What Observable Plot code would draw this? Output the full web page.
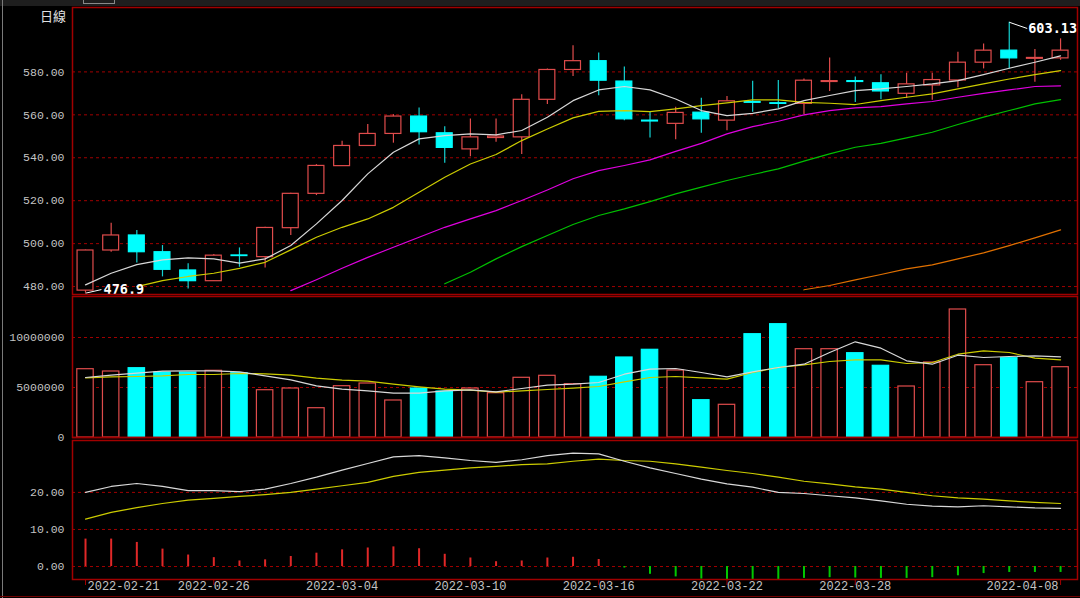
<!DOCTYPE html>
<html>
<head>
<meta charset="utf-8">
<script src="https://cdn.jsdelivr.net/npm/d3@7"></script>
<script src="https://cdn.jsdelivr.net/npm/@observablehq/plot@0.6"></script>
<style>
html,body{margin:0;padding:0;background:#000;}
#wrap{position:relative;width:1080px;height:598px;background:#000;overflow:hidden;}
#wrap svg{position:absolute;left:0;}
#topbar{position:absolute;left:0;top:0;width:1080px;height:6px;background:#1e1e1e;}
#tab{position:absolute;left:83px;top:-2px;width:30px;height:4px;border:1px solid #8a8a8a;}
#edge{position:absolute;left:2px;top:0;width:1px;height:598px;background:#7a7a7a;}
#bottomline{position:absolute;left:0;top:596px;width:1080px;height:1px;background:#700000;}
#title{position:absolute;left:40px;top:8px;font:13px/15px "Noto Sans CJK TC","Noto Sans CJK SC",sans-serif;color:#e0e0e0;}
</style>
</head>
<body>
<div id="wrap">
  <div id="topbar"></div><div id="tab"></div><div id="edge"></div><div id="bottomline"></div>
  <div id="title">日線</div>
</div>
<script>
// ---- candles (OHLC) ----
const open  = [478.1,496.8,503.8,496.0,487.5,482.5,494.5,493.7,507.2,523.2,536.1,545.5,551.1,559.2,551.4,543.9,549.2,549.5,567.0,580.9,585.0,575.5,557.3,555.8,561.0,557.3,566.0,565.4,565.1,575.3,575.7,574.7,569.8,573.7,576.0,584.3,589.9,586.1,586.3];
const high  = [497.0,509.5,506.1,499.1,490.6,494.9,498.0,507.6,523.5,536.8,547.7,555.5,560.1,563.2,554.4,558.1,558.1,569.4,581.3,592.2,588.8,582.3,561.2,563.5,567.7,568.5,575.6,576.0,576.7,586.5,577.6,578.7,579.4,579.4,589.1,593.0,603.13,590.4,595.4];
const low   = [476.9,496.0,491.0,484.5,478.9,482.3,489.0,488.7,503.8,522.4,536.0,545.3,546.8,546.0,537.4,540.5,547.2,541.5,564.8,577.8,568.9,557.3,549.2,548.4,551.4,552.6,561.2,562.8,560.1,570.9,565.8,567.0,567.6,566.8,572.6,581.4,581.4,575.2,585.4];
const close = [496.8,503.8,496.0,487.8,482.5,494.4,494.2,507.3,523.2,536.2,545.5,551.1,559.2,551.9,544.6,549.5,549.9,567.0,580.9,585.0,575.9,557.9,556.9,560.9,557.9,566.3,565.6,565.1,575.9,575.7,575.3,570.9,574.2,576.2,584.3,589.9,586.3,586.5,589.9];

// ---- price moving averages ----
const ma5  = [480.8,486.2,490.2,492.4,493.4,492.9,490.9,492.9,499.1,509.2,520.1,532.5,542.6,548.8,550.3,551.1,550.7,552.7,558.9,566.6,571.6,573.2,571.6,567.4,562.0,559.6,560.7,562.8,566.6,569.0,571.3,572.1,573.2,574.4,575.9,578.7,581.7,584.5,587.5];
const ma10 = [null,null,480.0,482.8,484.7,486.2,488.5,491.3,497.1,503.0,507.6,511.5,516.9,523.9,530.9,537.1,541.5,548.0,553.4,558.6,561.6,562.0,561.5,562.8,564.3,565.6,567.0,567.0,565.8,565.4,564.8,566.6,568.2,569.8,572.1,574.4,576.7,578.7,580.6];
const ma20 = [null,null,null,null,null,null,null,null,478.1,483.2,488.5,493.6,498.3,503.0,507.6,511.5,515.4,520.1,525.0,530.2,534.0,536.4,539.0,543.0,546.7,551.1,554.5,557.0,560.0,562.0,563.2,563.8,565.1,566.2,568.2,570.0,571.6,573.2,573.5];
const ma30 = [null,null,null,null,null,null,null,null,null,null,null,null,null,null,481.3,486.7,492.9,498.6,503.8,508.9,513.1,516.2,519.6,523.2,526.3,529.4,532.2,534.8,538.4,541.8,544.9,546.7,549.3,551.9,555.5,558.9,562.0,565.1,567.1];
const ma60 = [null,null,null,null,null,null,null,null,null,null,null,null,null,null,null,null,null,null,null,null,null,null,null,null,null,null,null,null,478.5,480.5,483.1,485.6,488.2,490.1,492.9,495.7,499.1,502.7,506.4];

// ---- volume ----
const volume  = [6830000,6600000,6930000,6500000,6500000,6670000,6430000,4730000,4900000,2930000,5130000,5400000,3700000,4900000,4600000,4900000,4430000,5970000,6170000,5330000,6070000,8000000,8770000,6700000,3730000,3270000,10330000,11330000,8830000,8830000,8430000,7170000,5100000,7500000,12800000,7230000,7930000,5530000,7030000];
const volMa5  = [6000000,6230000,6430000,6630000,6670000,6670000,6570000,6170000,5770000,5170000,4830000,4670000,4430000,4430000,4670000,4770000,4570000,4900000,5230000,5330000,5500000,6330000,6830000,6900000,6500000,6070000,6570000,7000000,7330000,8500000,9570000,8930000,7670000,7330000,8230000,8000000,8100000,8170000,8070000];
const volMa10 = [5970000,6070000,6100000,6170000,6300000,6300000,6400000,6370000,6230000,5930000,5730000,5630000,5330000,5070000,4830000,4730000,4530000,4670000,4800000,4930000,5100000,5570000,6000000,6100000,5970000,5830000,6500000,7000000,7270000,7600000,7770000,7770000,7400000,7500000,8330000,8670000,8500000,7930000,7770000];

// ---- lower indicator ----
const indWhite  = [20.0,21.6,22.4,21.6,20.5,20.5,20.2,20.9,22.4,24.1,26.0,27.8,29.6,29.9,29.3,28.6,28.1,28.8,29.9,30.6,30.4,28.4,26.6,25.1,23.6,22.3,21.4,20.0,19.7,19.1,18.5,17.7,16.8,16.3,16.1,16.4,16.1,15.8,15.7];
const indYellow = [12.8,14.6,15.9,17.0,17.9,18.4,18.9,19.4,20.0,20.9,21.8,22.7,24.3,25.4,26.0,26.6,27.0,27.5,27.7,28.4,29.0,28.6,28.4,27.7,26.8,25.9,25.1,24.1,23.0,22.3,21.5,20.9,20.0,19.1,18.5,18.2,17.7,17.3,17.0];
const indBar    = [7.4,7.4,6.5,4.7,3.1,2.4,1.5,1.8,2.7,3.6,4.5,5.0,5.3,4.8,3.3,2.3,1.3,1.5,2.3,2.5,1.9,-0.4,-2.1,-2.8,-3.4,-3.5,-3.5,-3.5,-3.2,-3.0,-3.1,-3.2,-3.2,-3.0,-2.5,-1.9,-1.6,-1.6,-1.6];

// ---- ticks ----
const dateTickIndex = [1,6,11,16,21,26,31,39];
const dateTickLabel = ["2022-02-21","2022-02-26","2022-03-04","2022-03-10","2022-03-16","2022-03-22","2022-03-28","2022-04-08"];
const priceTicks = [480,500,520,540,560,580];
const volTicks = [0,5000000,10000000];
const indTicks = [0,10,20];

// ---- styles ----
const RED = "#e04c4c", CYAN = "#00ffff", CYAN_W = "#14d2d2";
const FRAME = "#a00000", GRID = "#a00000", TXT = "#c4c4c4";
const C_WHITE = "#d8d8d8", C_YELLOW = "#cccc00", C_MAG = "#e000e0", C_GREEN = "#00c000", C_ORANGE = "#e07000";
const FONT = "'Liberation Mono','DejaVu Sans Mono',monospace";
const W = 1080, ML = 72, MR = 3;
const xDomain = [0.493, 39.66];
const baseStyle = {background: "transparent", fontFamily: FONT, fontSize: "11.5px", color: TXT, overflow: "visible"};

const candles = open.map((o, k) => ({i: k + 1, o, h: high[k], l: low[k], c: close[k], up: close[k] >= o, v: volume[k]}));
const series = arr => arr.map((v, k) => ({i: k + 1, v})).filter(d => d.v != null);
const line = (arr, stroke) => Plot.line(series(arr), {x: "i", y: "v", stroke, strokeWidth: 1.2});

const wrap = document.getElementById("wrap");
function place(svg, top) { svg.style.top = top + "px"; wrap.appendChild(svg); }

// ---- price panel ----
const lowC = candles[0];
const highC = candles.reduce((a, b) => (b.h > a.h ? b : a));
const price = Plot.plot({
  width: W, height: 296, marginLeft: ML, marginRight: MR, marginTop: 7, marginBottom: 2,
  x: {type: "linear", domain: xDomain, axis: null},
  y: {domain: [476.3, 610], axis: null},
  style: baseStyle,
  marks: [
    Plot.ruleY(priceTicks, {stroke: GRID, strokeDasharray: "3,3"}),
    Plot.axisY(priceTicks, {tickSize: 0, tickPadding: 8, tickFormat: d3.format(".2f"), label: null}),
    Plot.ruleX(candles, {x: "i", y1: "l", y2: "h", stroke: d => d.up ? RED : CYAN_W, strokeWidth: 1.2}),
    Plot.rect(candles, {x1: d => d.i - 0.31, x2: d => d.i + 0.31, y1: "o", y2: "c",
      fill: d => d.up ? "#000000" : CYAN, stroke: d => d.up ? RED : CYAN, strokeWidth: 1.2}),
    line(ma60, C_ORANGE), line(ma30, C_GREEN), line(ma20, C_MAG), line(ma10, C_YELLOW), line(ma5, C_WHITE),
    Plot.link([lowC], {x1: "i", y1: "l", x2: d => d.i + 0.62, y2: d => d.l + 1.7, stroke: "#ffffff"}),
    Plot.text([lowC], {x: "i", y: "l", text: d => d.l.toFixed(1), dx: 18, dy: -3.5, textAnchor: "start",
      fill: "#ffffff", fontWeight: "bold", fontSize: 13.5, fontFamily: "'DejaVu Sans Mono',monospace"}),
    Plot.link([highC], {x1: "i", y1: "h", x2: d => d.i + 0.7, y2: d => d.h - 2.9, stroke: "#ffffff"}),
    Plot.text([highC], {x: "i", y: "h", text: d => d.h.toFixed(2), dx: 19, dy: 6.5, textAnchor: "start",
      fill: "#ffffff", fontWeight: "bold", fontSize: 13.5, fontFamily: "'DejaVu Sans Mono',monospace"}),
    Plot.frame({stroke: FRAME, strokeWidth: 1.5})
  ]
});
place(price, 0);

// ---- volume panel ----
const vol = Plot.plot({
  width: W, height: 146, marginLeft: ML, marginRight: MR, marginTop: 2, marginBottom: 3,
  x: {type: "linear", domain: xDomain, axis: null},
  y: {domain: [0, 14100000], axis: null},
  style: baseStyle,
  marks: [
    Plot.ruleY(volTicks.filter(d => d > 0), {stroke: GRID, strokeDasharray: "3,3"}),
    Plot.axisY(volTicks, {tickSize: 0, tickPadding: 8, tickFormat: d => String(d), label: null}),
    Plot.rect(candles, {x1: d => d.i - 0.32, x2: d => d.i + 0.32, y1: 0, y2: "v",
      fill: d => d.up ? "#000000" : CYAN, stroke: d => d.up ? RED : CYAN, strokeWidth: 1.2}),
    line(volMa10, C_YELLOW), line(volMa5, C_WHITE),
    Plot.ruleY([0], {stroke: FRAME, strokeWidth: 1.5}),
    Plot.frame({stroke: FRAME, strokeWidth: 1.5})
  ]
});
place(vol, 294);

// ---- indicator panel ----
const indData = indBar.map((v, k) => ({i: k + 1, v}));
const ticksData = dateTickIndex.map((i, k) => ({i, label: dateTickLabel[k]}));
const last = ticksData.length - 1;
const ind = Plot.plot({
  width: W, height: 161, marginLeft: ML, marginRight: MR, marginTop: 3, marginBottom: 19,
  x: {type: "linear", domain: xDomain, axis: null},
  y: {domain: [-3.5, 34.0], axis: null},
  style: baseStyle,
  marks: [
    Plot.ruleY(indTicks, {stroke: GRID, strokeDasharray: "3,3"}),
    Plot.axisY(indTicks, {tickSize: 0, tickPadding: 8, tickFormat: d3.format(".2f"), label: null}),
    Plot.ruleX(indData, {x: "i", y1: 0, y2: "v", stroke: d => d.v >= 0 ? "#e02828" : "#00c800", strokeWidth: 2}),
    line(indYellow, C_YELLOW), line(indWhite, C_WHITE),
    Plot.frame({stroke: FRAME, strokeWidth: 1.5}),
    Plot.axisX(dateTickIndex, {tickSize: 6, tickFormat: () => "", stroke: FRAME, label: null}),
    Plot.text(ticksData.slice(0, 1), {x: "i", text: "label", frameAnchor: "bottom", dy: 10, dx: 2, textAnchor: "start", fontSize: 12, fill: TXT}),
    Plot.text(ticksData.slice(1, last), {x: "i", text: "label", frameAnchor: "bottom", dy: 10, textAnchor: "middle", fontSize: 12, fill: TXT}),
    Plot.text(ticksData.slice(last), {x: "i", text: "label", frameAnchor: "bottom", dy: 10, dx: -2, textAnchor: "end", fontSize: 12, fill: TXT})
  ]
});
place(ind, 437);
</script>
</body>
</html>
